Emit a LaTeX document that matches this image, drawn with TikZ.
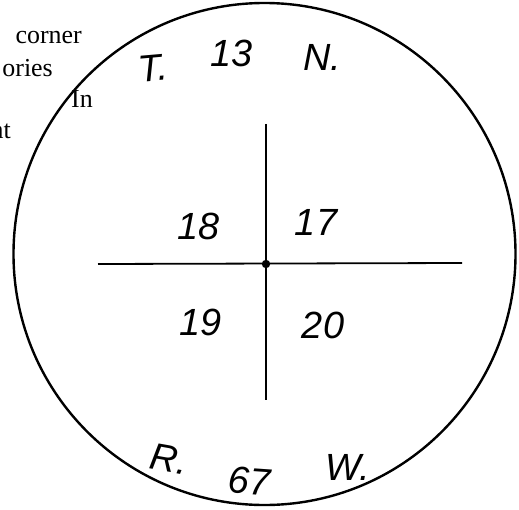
\documentclass[tikz,border=0pt]{standalone}
\usepackage{fontspec}
\setmainfont{Liberation Serif}
\newfontfamily\handfont{Liberation Sans}
\begin{document}
\begin{tikzpicture}[x=1bp,y=-1bp,
  pagetext/.style={anchor=base east,inner sep=0pt,font=\fontsize{26}{26}\selectfont},
  hand/.style={inner sep=0pt,font=\handfont\itshape\fontsize{38}{38}\selectfont},
  rule/.style={line width=1.8bp,black}]
\useasboundingbox (0,0) rectangle (519,510);
\clip (0,0) rectangle (519,510);
% page text fragments
\node[pagetext] (t1) at (82,44) {corner};
\node[pagetext] (t2) at (53,77) {ories};
\node[pagetext] (t3) at (93,108) {In};
\node[pagetext] (t4) at (11,139) {nt};
% township circle
\node[draw,circle,line width=2.4bp,minimum size=502bp,inner sep=0pt] (ring) at (264.5,254) {};
% section lines
\coordinate (top) at (266,124);
\coordinate (bot) at (266,400);
\coordinate (lft) at (98,264);
\coordinate (rgt) at (462,263);
\coordinate (mid) at (266,264);
\draw[rule] (top) -- (bot);
\draw[rule] (lft) -- (rgt);
\fill (mid) circle (4.2bp);
% handwritten labels
\node[hand,rotate=5] (T) at (153,68) {T.};
\node[hand] (n13) at (232,53) {13};
\node[hand] (N) at (322,57) {N.};
\node[hand] (s18) at (199,226) {18};
\node[hand] (s17) at (316,222) {17};
\node[hand] (s19) at (201,322) {19};
\node[hand] (s20) at (323,325) {20};
\node[hand,rotate=-10] (R) at (169,459) {R.};
\node[hand,rotate=-4] (n67) at (249,481) {67};
\node[hand] (W) at (348,467) {W.};
\end{tikzpicture}
\end{document}
